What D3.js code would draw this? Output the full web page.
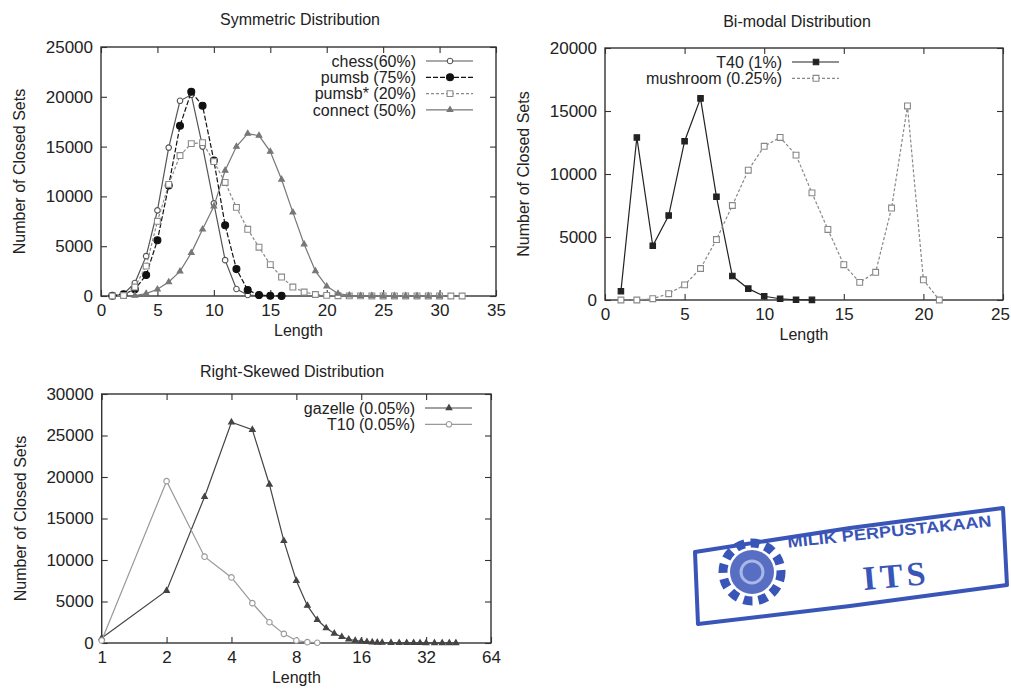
<!DOCTYPE html>
<html>
<head>
<meta charset="utf-8">
<script src="https://cdn.jsdelivr.net/npm/d3@7"></script>
<style>
  body { margin: 0; background: #fff; }
  svg { display: block; }
  text { font-family: "Liberation Sans", Arial, sans-serif; fill: #222; }
</style>
</head>
<body>
<svg id="chart"></svg>
<script>
// ---- Symmetric distribution ----
const chessLen = [1, 2, 3, 4, 5, 6, 7, 8, 9, 10, 11, 12, 13, 14];
const chessCount = [0, 200, 1300, 4000, 8600, 14900, 19600, 20200, 15000, 9300, 3600, 700, 100, 20];

const pumsbLen = [1, 2, 3, 4, 5, 6, 7, 8, 9, 10, 11, 12, 13, 14, 15, 16];
const pumsbCount = [30, 170, 670, 2100, 5600, 11100, 17100, 20500, 19100, 13600, 7100, 2700, 600, 100, 30, 10];

const pumsbStarLen = [1, 2, 3, 4, 5, 6, 7, 8, 9, 10, 11, 12, 13, 14, 15, 16, 17, 18, 19, 20, 21, 22, 23, 24, 25, 26, 27, 28, 29, 30, 31, 32];
const pumsbStarCount = [0, 50, 900, 3000, 7500, 11200, 14100, 15300, 15400, 13500, 11400, 8900, 6700, 4900, 3150, 1900, 900, 400, 150, 60, 30, 15, 10, 8, 5, 5, 3, 3, 2, 2, 1, 1];

const connectLen = [3, 4, 5, 6, 7, 8, 9, 10, 11, 12, 13, 14, 15, 16, 17, 18, 19, 20, 21, 22, 23, 24, 25, 26, 27, 28, 29, 30];
const connectCount = [50, 240, 670, 1400, 2470, 4330, 6700, 9000, 12600, 15000, 16300, 16100, 14500, 11700, 8400, 5200, 2500, 970, 250, 60, 20, 10, 5, 3, 2, 1, 1, 1];

// ---- Bi-modal distribution ----
const t40Len = [1, 2, 3, 4, 5, 6, 7, 8, 9, 10, 11, 12, 13];
const t40Count = [700, 12900, 4300, 6700, 12600, 16000, 8200, 1900, 900, 300, 100, 20, 10];

const mushroomLen = [1, 2, 3, 4, 5, 6, 7, 8, 9, 10, 11, 12, 13, 14, 15, 16, 17, 18, 19, 20, 21];
const mushroomCount = [0, 0, 100, 500, 1200, 2500, 4800, 7500, 10300, 12200, 12900, 11500, 8500, 5600, 2800, 1400, 2200, 7300, 15400, 1600, 0];

// ---- Right-skewed distribution ----
const gazelleLen = [1, 2, 3, 4, 5, 6, 7, 8, 9, 10, 11, 12, 13, 14, 15, 16, 17, 18, 19, 20, 22, 24, 26, 28, 30, 32, 35, 38, 41, 44];
const gazelleCount = [600, 6300, 17600, 26600, 25700, 19100, 12300, 7500, 4500, 2800, 1800, 1150, 750, 450, 300, 200, 130, 90, 60, 40, 30, 20, 15, 10, 8, 6, 5, 4, 3, 2];

const t10Len = [1, 2, 3, 4, 5, 6, 7, 8, 9, 10];
const t10Count = [300, 19500, 10400, 7900, 4800, 2500, 1100, 300, 100, 30];

// ticks
const symXTicks = [0, 5, 10, 15, 20, 25, 30, 35];
const symYTicks = [0, 5000, 10000, 15000, 20000, 25000];
const biXTicks = [0, 5, 10, 15, 20, 25];
const biYTicks = [0, 5000, 10000, 15000, 20000];
const skewXTicks = [1, 2, 4, 8, 16, 32, 64];
const skewYTicks = [0, 5000, 10000, 15000, 20000, 25000, 30000];

const width = 1011, height = 693;
const svg = d3.select("#chart").attr("width", width).attr("height", height)
  .style("background", "#fff");

const zip = (a, b) => a.map((v, i) => [v, b[i]]);

function marker(type) {
  const m = {
    circleOpen: [d3.symbolCircle, 24, false],
    circleFilled: [d3.symbolCircle, 38, true],
    squareOpen: [d3.symbolSquare, 34, false],
    squareFilled: [d3.symbolSquare, 30, true],
    triangle: [d3.symbolTriangle, 14, true]
  }[type];
  return { path: d3.symbol().type(m[0]).size(m[1])(), filled: m[2] };
}

function drawPanel(p) {
  const g = svg.append("g");
  const x = p.x, y = p.y;
  const [x0, x1] = x.range();
  const [y0, y1] = y.range();

  // axes (gnuplot style: inward ticks, mirrored)
  const style = sel => {
    sel.attr("font-size", 17).attr("font-family", null);
    sel.select(".domain").remove();
    sel.selectAll(".tick line").attr("stroke", "#333").attr("stroke-width", 1.1);
    sel.selectAll(".tick text").attr("fill", "#222");
  };
  const xAxisG = g.append("g").attr("transform", `translate(0,${y0})`)
    .call(d3.axisBottom(x).tickValues(p.xTicks).tickSize(-6).tickPadding(8).tickFormat(d3.format("d")))
    .call(style);
  // keep the last label inside the page
  xAxisG.selectAll(".tick text").filter(d => x(d) > width - 12).attr("dx", -3);
  g.append("g").attr("transform", `translate(0,${y1})`)
    .call(d3.axisTop(x).tickValues(p.xTicks).tickSize(-6).tickFormat(""))
    .call(style);
  g.append("g").attr("transform", `translate(${x0},0)`)
    .call(d3.axisLeft(y).tickValues(p.yTicks).tickSize(-6).tickPadding(8).tickFormat(d3.format("d")))
    .call(style);
  g.append("g").attr("transform", `translate(${x1},0)`)
    .call(d3.axisRight(y).tickValues(p.yTicks).tickSize(-6).tickFormat(""))
    .call(style);

  g.append("rect")
    .attr("x", x0).attr("y", y1).attr("width", x1 - x0).attr("height", y0 - y1)
    .attr("fill", "none").attr("stroke", "#333").attr("stroke-width", 1.4);

  // title and labels
  g.append("text").attr("x", p.titleX).attr("y", p.titleY).attr("text-anchor", "middle")
    .attr("font-size", 16).text(p.title);
  g.append("text").attr("x", (x0 + x1) / 2).attr("y", y0 + 40).attr("text-anchor", "middle")
    .attr("font-size", 16).text("Length");
  g.append("text")
    .attr("transform", `translate(${x0 - 76},${(y0 + y1) / 2}) rotate(-90)`)
    .attr("text-anchor", "middle").attr("font-size", 16).text("Number of Closed Sets");

  const line = d3.line().x(d => x(d[0])).y(d => y(d[1]));

  p.series.forEach((s, i) => {
    const pts = zip(s.len, s.count);
    g.append("path").datum(pts)
      .attr("d", line)
      .attr("fill", "none")
      .attr("stroke", s.color)
      .attr("stroke-width", s.width || 1.2)
      .attr("stroke-dasharray", s.dash || null);
    const mk = marker(s.marker);
    g.selectAll(null).data(pts).enter().append("path")
      .attr("d", mk.path)
      .attr("transform", d => `translate(${x(d[0])},${y(d[1])})`)
      .attr("fill", mk.filled ? s.color : "#fff")
      .attr("stroke", s.color)
      .attr("stroke-width", 1.1);

    // legend
    const ly = p.legendY + i * p.legendStep;
    g.append("text").attr("x", p.legendX).attr("y", ly).attr("dy", "0.35em")
      .attr("text-anchor", "end").attr("font-size", 16).text(s.name);
    g.append("line")
      .attr("x1", p.legendX + 10).attr("x2", p.legendX + 57)
      .attr("y1", ly).attr("y2", ly)
      .attr("stroke", s.color).attr("stroke-width", s.width || 1.2)
      .attr("stroke-dasharray", s.dash || null);
    g.append("path").attr("d", mk.path)
      .attr("transform", `translate(${p.legendX + 34},${ly})`)
      .attr("fill", mk.filled ? s.color : "#fff")
      .attr("stroke", s.color).attr("stroke-width", 1.1);
  });
}

drawPanel({
  title: "Symmetric Distribution", titleX: 300, titleY: 25,
  x: d3.scaleLinear().domain([0, 35]).range([101, 496]),
  y: d3.scaleLinear().domain([0, 25000]).range([296, 47]),
  xTicks: symXTicks, yTicks: symYTicks,
  legendX: 416, legendY: 61, legendStep: 16.3,
  series: [
    { name: "chess(60%)", len: chessLen, count: chessCount, color: "#555", marker: "circleOpen" },
    { name: "pumsb (75%)", len: pumsbLen, count: pumsbCount, color: "#111", marker: "circleFilled", dash: "5,2" },
    { name: "pumsb* (20%)", len: pumsbStarLen, count: pumsbStarCount, color: "#8a8a8a", marker: "squareOpen", dash: "3,2" },
    { name: "connect (50%)", len: connectLen, count: connectCount, color: "#777", marker: "triangle" }
  ]
});

drawPanel({
  title: "Bi-modal Distribution", titleX: 797, titleY: 27,
  x: d3.scaleLinear().domain([0, 25]).range([605, 1003]),
  y: d3.scaleLinear().domain([0, 20000]).range([300, 48]),
  xTicks: biXTicks, yTicks: biYTicks,
  legendX: 782, legendY: 62, legendStep: 16.3,
  series: [
    { name: "T40 (1%)", len: t40Len, count: t40Count, color: "#222", marker: "squareFilled" },
    { name: "mushroom (0.25%)", len: mushroomLen, count: mushroomCount, color: "#888", marker: "squareOpen", dash: "3,2" }
  ]
});

drawPanel({
  title: "Right-Skewed Distribution", titleX: 292, titleY: 377,
  x: d3.scaleLog().base(2).domain([1, 64]).range([101.7, 491]),
  y: d3.scaleLinear().domain([0, 30000]).range([643, 394]),
  xTicks: skewXTicks, yTicks: skewYTicks,
  legendX: 415, legendY: 408, legendStep: 16.3,
  series: [
    { name: "gazelle (0.05%)", len: gazelleLen, count: gazelleCount, color: "#444", marker: "triangle" },
    { name: "T10 (0.05%)", len: t10Len, count: t10Count, color: "#999", marker: "circleOpen" }
  ]
});

// library stamp (scanned page artefact)
const stamp = svg.append("g").attr("opacity", 0.9);
const blue = "#2443b0";
stamp.append("path")
  .attr("d", "M695,552 L850,528 L1003,508 L1007,585 L850,606 L698,624 Z")
  .attr("fill", "none").attr("stroke", blue).attr("stroke-width", 4)
  .attr("stroke-linejoin", "round");
stamp.append("circle").attr("cx", 752).attr("cy", 572).attr("r", 29)
  .attr("fill", "none").attr("stroke", blue).attr("stroke-width", 9)
  .attr("stroke-dasharray", "9,6");
stamp.append("circle").attr("cx", 752).attr("cy", 572).attr("r", 22)
  .attr("fill", blue).attr("opacity", 0.85);
stamp.append("circle").attr("cx", 752).attr("cy", 572).attr("r", 11)
  .attr("fill", "none").attr("stroke", "#9fb0e6").attr("stroke-width", 3);
stamp.append("text")
  .attr("transform", "translate(890,537) rotate(-6)")
  .attr("text-anchor", "middle").attr("font-size", 16).attr("font-weight", "bold")
  .attr("textLength", 205).attr("lengthAdjust", "spacingAndGlyphs")
  .style("fill", blue).text("MILIK PERPUSTAKAAN");
stamp.append("text")
  .attr("transform", "translate(897,587) rotate(-5)")
  .attr("text-anchor", "middle").attr("font-size", 34).attr("font-weight", "bold")
  .style("font-family", '"Liberation Serif", "DejaVu Serif", serif')
  .attr("letter-spacing", 4)
  .style("fill", blue).text("ITS");
</script>
</body>
</html>
